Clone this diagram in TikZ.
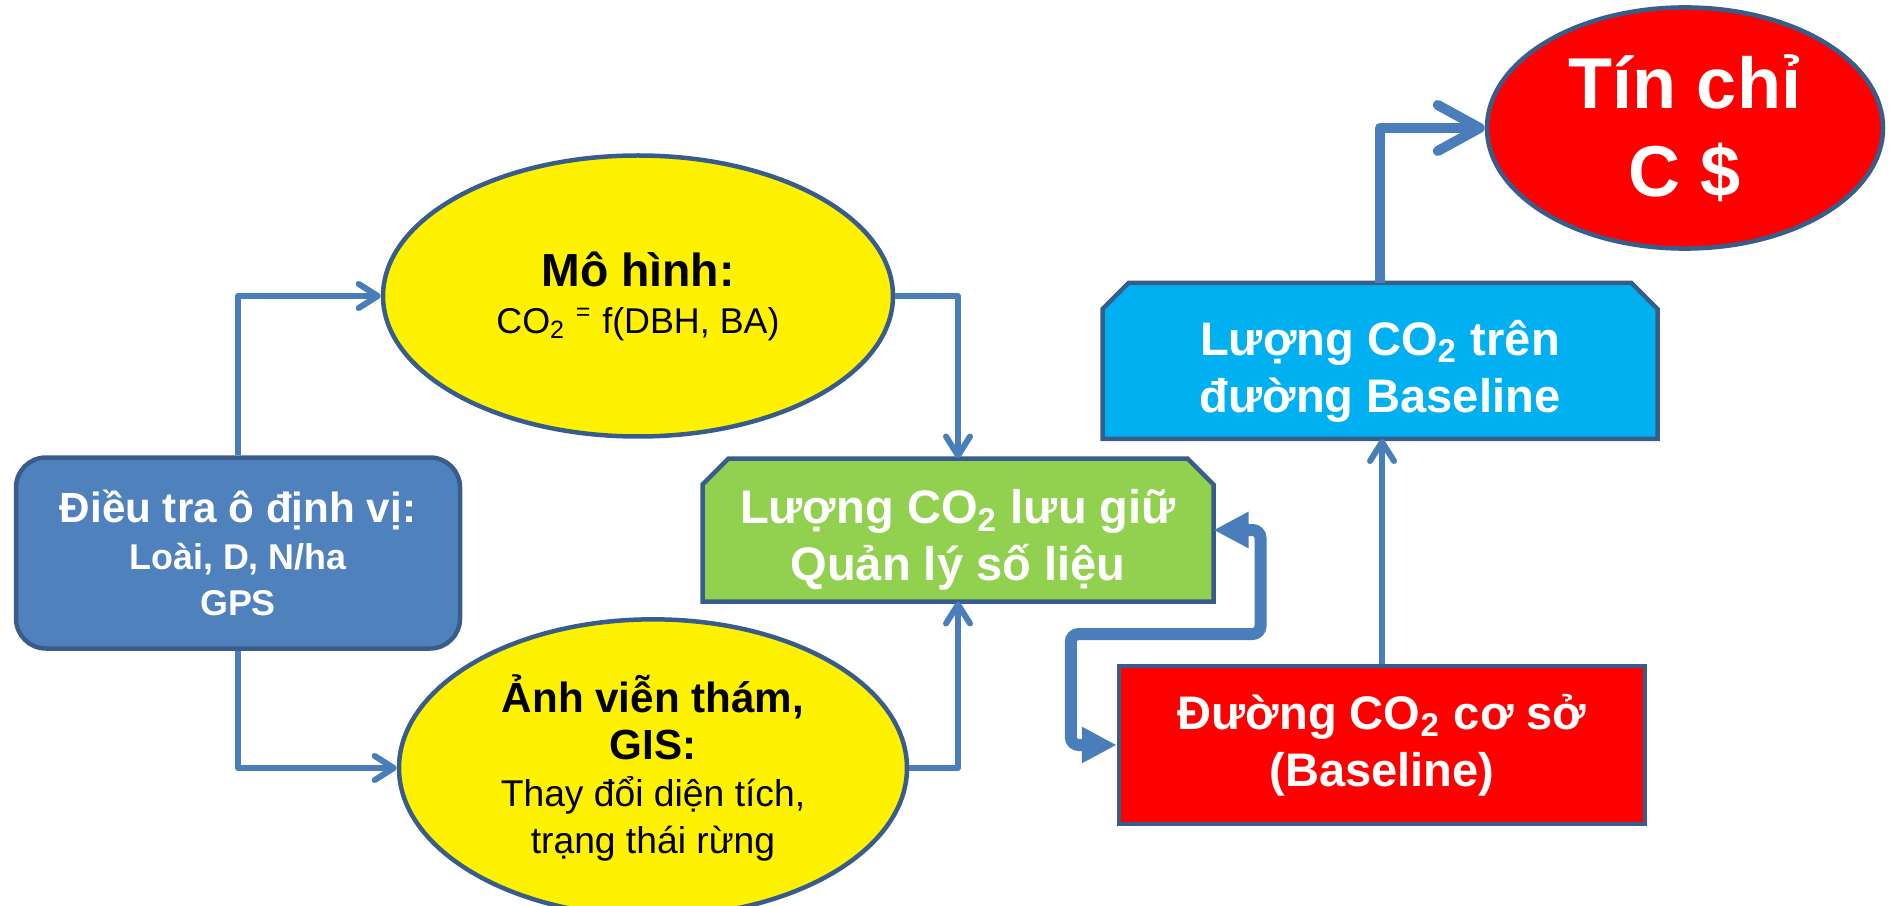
\documentclass[tikz,border=0pt]{standalone}
\usepackage{fontspec}
\setmainfont{Liberation Sans}
\usepackage{tikz}
\usetikzlibrary{shapes, arrows.meta, calc, backgrounds}
\definecolor{boxblue}{HTML}{4F81BD}
\definecolor{edgeblue}{HTML}{385D8A}
\definecolor{lineblue}{HTML}{4A7EBB}
\definecolor{leafgreen}{HTML}{92D050}
\definecolor{skyblue}{HTML}{00B0F0}
\tikzstyle{roundbox} = [rectangle, rounded corners=3mm, fill=boxblue, text=white]
\tikzstyle{oval} = [ellipse, fill=yellow, text=black]

\begin{document}
\begin{tikzpicture}[x=0.1mm, y=-0.1mm,
  every node/.style = {align=center, draw=edgeblue, line width=0.45mm},
  cutbox/.style = {rectangle, draw=none, inner sep=0pt, outer sep=0pt},
  cuttext/.style = {draw=none, yshift=-1mm, text=white,
    font=\fontsize{13.4}{16.2}\selectfont\bfseries},
  flow/.style = {draw=lineblue, line width=0.6mm, line join=round,
    -{Straight Barb[length=1.9mm, width=2.4mm, round]}},
  bigflow/.style = {flow, line width=1mm,
    -{Straight Barb[length=4.2mm, width=4.6mm, round]}},
  dataflow/.style = {draw=lineblue, line width=1.2mm, rounded corners=0.8mm,
    {Triangle[length=3.5mm, width=3.4mm]}-{Triangle[length=3.5mm, width=3.4mm]}}]
  \useasboundingbox (0,0) rectangle (1892,906);
  % sources
  \node[roundbox, minimum width=44.4mm, minimum height=19.1mm,
    font=\fontsize{10.2}{13.1}\selectfont\bfseries] (dieutra) at (238,553)
    {{\fontsize{12}{13.1}\selectfont Điều tra ô định vị:}\\ Loài, D, N/ha\\ GPS};
  \node[oval, minimum width=51mm, minimum height=28.1mm,
    font=\fontsize{10.2}{13.4}\selectfont] (mohinh) at (638,296)
    {{\bfseries\fontsize{13.2}{13.4}\selectfont Mô hình:}\\
     CO\textsubscript{2} \textsuperscript{=} f(DBH, BA)};
  \node[oval, minimum width=50.8mm, minimum height=26.8mm,
    font=\fontsize{10.6}{13.4}\selectfont] (anhvt) at (653,768)
    {{\bfseries\fontsize{12}{13.4}\selectfont Ảnh viễn thám,}\\
     {\bfseries\fontsize{12}{13.4}\selectfont GIS:}\\
     Thay đổi diện tích,\\ trạng thái rừng};
  % results
  \node[cutbox, minimum width=51.1mm, minimum height=14.3mm,
    label={[cuttext]center:{Lượng CO\textsubscript{2} lưu giữ\\ Quản lý số liệu}}]
    (luongco) at (958,530) {};
  \node[cutbox, minimum width=55.5mm, minimum height=15.6mm,
    label={[cuttext]center:{Lượng CO\textsubscript{2} trên\\ đường Baseline}}]
    (luongtren) at (1380,361) {};
  \node[rectangle, fill=red, text=white, minimum width=52.6mm, minimum height=15.8mm,
    font=\fontsize{13.4}{16.2}\selectfont\bfseries] (duongcs) at (1382,745)
    {Đường CO\textsubscript{2} cơ sở\\ (Baseline)};
  \node[oval, fill=red, text=white, minimum width=39.6mm, minimum height=23.9mm,
    font=\fontsize{20.5}{25}\selectfont\bfseries] (tinchi) at (1685,128)
    {Tín chỉ\\ C \$};
  % cut corner outlines behind the texts
  \begin{scope}[on background layer]
    \foreach \b/\c in {luongco/leafgreen, luongtren/skyblue}
      \draw[draw=edgeblue, line width=0.45mm, fill=\c]
        (\b.south west) -- ([yshift=-2.6mm]\b.north west)
        -- ([xshift=2.6mm]\b.north west) -- ([xshift=-2.6mm]\b.north east)
        -- ([yshift=-2.6mm]\b.north east) -- (\b.south east) -- cycle;
  \end{scope}
  % connectors
  \draw[flow] (dieutra.north) |- (mohinh.west);
  \draw[flow] (dieutra.south) |- (anhvt.west);
  \draw[flow] (mohinh.east) -| (luongco.north);
  \draw[flow] (anhvt.east) -| (luongco.south);
  \draw[flow] (duongcs.north) -- (duongcs.north |- luongtren.south);
  \draw[bigflow] (luongtren.north) |- (tinchi.west);
  \draw[dataflow] (luongco.east) -- ++(47,0) -- ++(0,104)
    -| ($(duongcs.west)+(-46,0)$) -- (duongcs.west);
\end{tikzpicture}
\end{document}
